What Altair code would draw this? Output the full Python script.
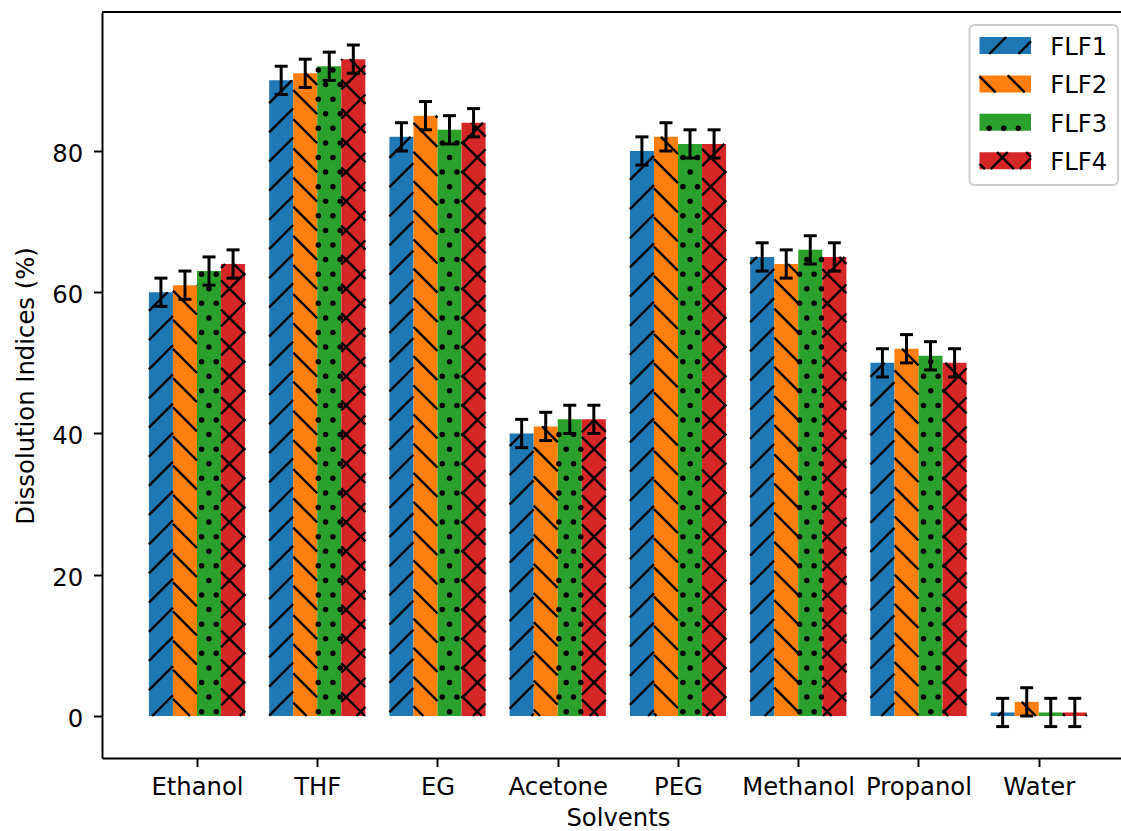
import json
import math
import pandas as pd
import altair as alt

# ---------------- data ----------------
solvents = ["Ethanol", "THF", "EG", "Acetone", "PEG", "Methanol", "Propanol", "Water"]
series = ["FLF1", "FLF2", "FLF3", "FLF4"]
flf1 = [60, 90, 82, 40, 80, 65, 50, 0.5]
flf2 = [61, 91, 85, 41, 82, 64, 52, 2]
flf3 = [63, 92, 83, 42, 81, 66, 51, 0.5]
flf4 = [64, 93, 84, 42, 81, 65, 50, 0.5]
err1 = [2, 2, 2, 2, 2, 2, 2, 2]
err2 = [2, 2, 2, 2, 2, 2, 2, 2]
err3 = [2, 2, 2, 2, 2, 2, 2, 2]
err4 = [2, 2, 2, 2, 2, 2, 2, 2]
values = [flf1, flf2, flf3, flf4]
errors = [err1, err2, err3, err4]
colors = ["#1f77b4", "#ff7f0e", "#2ca02c", "#d62728"]
hatches = ["/", "\\", ".", "x"]
yticks = [0, 20, 40, 60, 80]

# ---------------- layout ----------------
L, T = 102, 12          # plot origin on the page
W, H = 1019, 746        # plot area
PB = 73                 # room below plot
XMIN, SX = -0.79, 120.25
XMAX = XMIN + W / SX
YMAX, SY = 99.68, 7.0625
YMIN = YMAX - H / SY
BAR_W = 0.2
FONT = "DejaVu Sans"
FS = 24.3
LW = 1.94


def ux(px):
    return XMIN + (px - L) / SX


def uy(py):
    return YMAX - (py - T) / SY


def px_x(v):
    return L + (v - XMIN) * SX


def px_y(v):
    return T + (YMAX - v) * SY


# hatch pattern geometry (page pixels)
S_LINE = 175 / 6.0
S_DOT = 175 / 12.0
PH_SLASH = 6.8
PH_BACK = -1.0
DOT_W0 = -420.0
DOT_U0 = 318.3


def hatch_geom(X0, X1, Yt, Yb, kind):
    """Return (segments, dots) in page pixels for a rectangle."""
    segs, dots = [], []
    Wb, Wt = -Yb, -Yt
    if kind in ("/", "x"):
        kmin = math.ceil((Wb - X1 - PH_SLASH) / S_LINE)
        kmax = math.floor((Wt - X0 - PH_SLASH) / S_LINE)
        for k in range(kmin, kmax + 1):
            c = k * S_LINE + PH_SLASH
            lo, hi = max(X0, Wb - c), min(X1, Wt - c)
            if hi - lo > 0.3:
                segs.append((lo, -(lo + c), hi, -(hi + c)))
    if kind in ("\\", "x"):
        kmin = math.ceil((Wb + X0 - PH_BACK) / S_LINE)
        kmax = math.floor((Wt + X1 - PH_BACK) / S_LINE)
        for k in range(kmin, kmax + 1):
            c = k * S_LINE + PH_BACK
            lo, hi = max(X0, c - Wt), min(X1, c - Wb)
            if hi - lo > 0.3:
                segs.append((lo, -(c - lo), hi, -(c - hi)))
    if kind == ".":
        kmin = math.ceil((Wb - DOT_W0) / S_DOT)
        kmax = math.floor((Wt - DOT_W0) / S_DOT)
        for k in range(kmin, kmax + 1):
            w = DOT_W0 + k * S_DOT
            shift = 0 if k % 2 == 0 else 0.5
            mmin = math.floor((X0 - DOT_U0) / S_DOT) - 1
            mmax = math.ceil((X1 - DOT_U0) / S_DOT) + 1
            for m in range(mmin, mmax + 1):
                u = DOT_U0 + (m + shift) * S_DOT
                if X0 + 0.8 <= u <= X1 - 0.8 and Wb + 1.5 <= w <= Wt - 1.5:
                    dots.append((u, -w))
    return segs, dots


# ---------------- tables ----------------
bar_rows, err_rows, seg_rows, dot_rows = [], [], [], []
for si, name in enumerate(series):
    off = (si - 1.5) * BAR_W
    for ci, solv in enumerate(solvents):
        v = values[si][ci]
        e = errors[si][ci]
        xc = ci + off
        bar_rows.append({"x": xc - BAR_W / 2, "x2": xc + BAR_W / 2, "y": 0, "y2": v,
                         "series": name, "solvent": solv})
        err_rows.append({"x": xc, "y": v - e, "y2": v + e, "series": name})
        segs, dots = hatch_geom(px_x(xc - BAR_W / 2), px_x(xc + BAR_W / 2),
                                px_y(v), px_y(0), hatches[si])
        for (a, b, c, d) in segs:
            seg_rows.append({"x": ux(a), "y": uy(b), "x2": ux(c), "y2": uy(d)})
        for (a, b) in dots:
            dot_rows.append({"x": ux(a), "y": uy(b)})

bars = pd.DataFrame(bar_rows)
errs = pd.DataFrame(err_rows)
segs_df = pd.DataFrame(seg_rows)
dots_df = pd.DataFrame(dot_rows)

# legend (page-pixel layout converted to data units)
LBOX = (969.5, 1118, 25, 185)
leg_rows, leg_txt, leg_seg, leg_dot = [], [], [], []
for si, name in enumerate(series):
    cy = 45.5 + 38.4 * si
    X0, X1, Yt, Yb = 979.5, 1031, cy - 8.5, cy + 8.5
    leg_rows.append({"x": ux(X0), "x2": ux(X1), "y": uy(Yb), "y2": uy(Yt), "series": name})
    leg_txt.append({"x": ux(1050.3), "y": uy(cy + 9.5), "series": name})
    segs, dots = hatch_geom(X0, X1, Yt, Yb, hatches[si])
    for (a, b, c, d) in segs:
        leg_seg.append({"x": ux(a), "y": uy(b), "x2": ux(c), "y2": uy(d)})
    for (a, b) in dots:
        leg_dot.append({"x": ux(a), "y": uy(b)})
leg_df = pd.DataFrame(leg_rows)
leg_txt_df = pd.DataFrame(leg_txt)
leg_seg_df = pd.DataFrame(leg_seg)
leg_dot_df = pd.DataFrame(leg_dot)
box_df = pd.DataFrame([{"x": ux(LBOX[0]), "x2": ux(LBOX[1]), "y": uy(LBOX[3]), "y2": uy(LBOX[2])}])

# ---------------- scales / axes ----------------
xs = alt.Scale(domain=[XMIN, XMAX], nice=False, zero=False)
ys = alt.Scale(domain=[YMIN, YMAX], nice=False, zero=False)
label_expr = json.dumps(solvents) + "[round(datum.value)]"

x_axis = alt.Axis(
    values=list(range(len(solvents))), labelExpr=label_expr, grid=False,
    title="Solvents", titleX=(px_x((XMIN + (XMIN + 8.58)) / 2) - L), titleY=67,
    titleAlign="center", titleBaseline="alphabetic", titleFont=FONT, titleFontSize=FS,
    titleFontWeight="normal", titleColor="black",
    labelFont=FONT, labelFontSize=FS, labelColor="black", labelBaseline="alphabetic",
    labelPadding=27.8, labelFlush=False, labelOverlap=False, labelBound=False,
    domainColor="black", domainWidth=LW, tickColor="black", tickWidth=LW, tickSize=8.5,
)
y_axis = alt.Axis(
    values=yticks, grid=False, format="d",
    title="Dissolution Indices (%)", titleX=-69, titleY=H / 2 + 0.5, titleAngle=270,
    titleAlign="center", titleBaseline="alphabetic", titleFont=FONT, titleFontSize=FS,
    titleFontWeight="normal", titleColor="black",
    labelFont=FONT, labelFontSize=FS, labelColor="black", labelPadding=10.8,
    labelOffset=3.5, labelFlush=False, labelOverlap=False, labelBound=False,
    domainColor="black", domainWidth=LW, tickColor="black", tickWidth=LW, tickSize=8.5,
)

X = lambda f="x": alt.X(f"{f}:Q", scale=xs, axis=x_axis)
Y = lambda f="y": alt.Y(f"{f}:Q", scale=ys, axis=y_axis)
col = alt.Color("series:N", scale=alt.Scale(domain=series, range=colors), legend=None)

DOT_SIZE = 30

bar_layer = alt.Chart(bars).mark_rect(strokeWidth=0).encode(
    x=X(), x2="x2:Q", y=Y(), y2="y2:Q", color=col)
hatch_layer = alt.Chart(segs_df).mark_rule(color="black", strokeWidth=2.4, strokeCap="butt").encode(
    x=X(), x2="x2:Q", y=Y(), y2="y2:Q")
dot_layer = alt.Chart(dots_df).mark_point(filled=True, shape="circle", size=DOT_SIZE, color="black", opacity=1).encode(
    x=X(), y=Y())
err_layer = alt.Chart(errs).mark_rule(color="black", strokeWidth=3).encode(
    x=X(), y=Y(), y2="y2:Q")
cap_lo = alt.Chart(errs).mark_tick(orient="horizontal", size=13, thickness=3, color="black", opacity=1).encode(
    x=X(), y=Y("y"))
cap_hi = alt.Chart(errs).mark_tick(orient="horizontal", size=13, thickness=3, color="black", opacity=1).encode(
    x=X(), y=Y("y2"))

box_layer = alt.Chart(box_df).mark_rect(fill="white", fillOpacity=0.8, stroke="#cccccc",
                                        strokeWidth=LW, cornerRadius=5).encode(
    x=X(), x2="x2:Q", y=Y(), y2="y2:Q")
leg_layer = alt.Chart(leg_df).mark_rect(strokeWidth=0).encode(
    x=X(), x2="x2:Q", y=Y(), y2="y2:Q", color=col)
leg_hatch = alt.Chart(leg_seg_df).mark_rule(color="black", strokeWidth=2.4, strokeCap="butt").encode(
    x=X(), x2="x2:Q", y=Y(), y2="y2:Q")
leg_dots = alt.Chart(leg_dot_df).mark_point(filled=True, shape="circle", size=DOT_SIZE, color="black", opacity=1).encode(
    x=X(), y=Y())
leg_text = alt.Chart(leg_txt_df).mark_text(align="left", baseline="alphabetic", font=FONT,
                                           fontSize=FS, color="black").encode(
    x=X(), y=Y(), text="series:N")

top_spine = alt.Chart(box_df).mark_rule(color="black", strokeWidth=LW).encode(
    x=alt.value(0), x2=alt.value(W), y=alt.value(0))

chart = alt.layer(
    bar_layer, hatch_layer, dot_layer, err_layer, cap_lo, cap_hi,
    box_layer, leg_layer, leg_hatch, leg_dots, leg_text, top_spine,
).properties(
    width=W, height=H,
    autosize=alt.AutoSizeParams(type="none"),
    padding={"left": L, "top": T, "right": 0, "bottom": PB},
    background="white",
).configure_view(stroke=None)

chart.save("out.html", embed_options={"renderer": "svg", "actions": False})
